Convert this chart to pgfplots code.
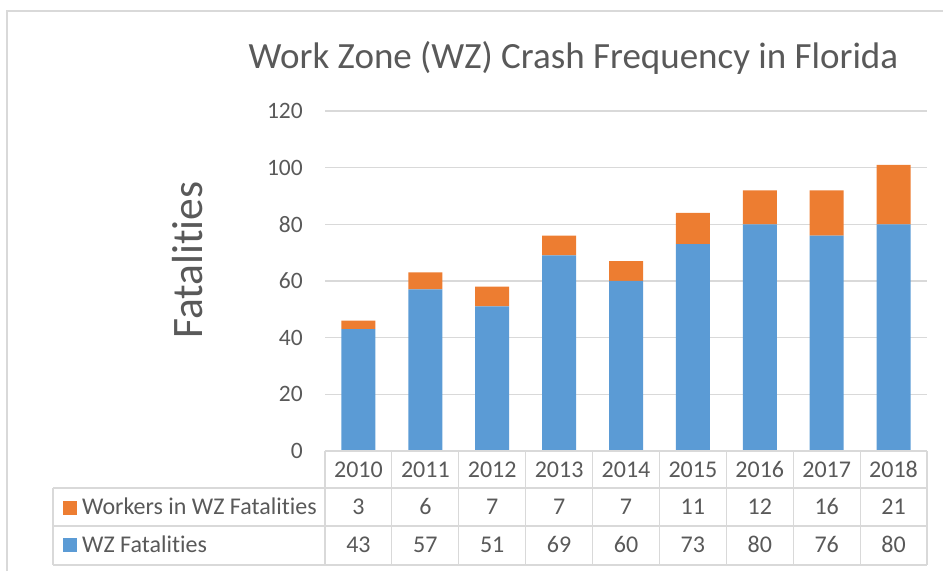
\documentclass[border=0pt]{standalone}
\usepackage{pgfplots}
\pgfplotsset{compat=1.18}
\usepackage{pgfplotstable}
\usepackage{fontspec}
\setmainfont{Carlito}[Ligatures=NoCommon]
\definecolor{wzblue}{HTML}{5B9BD5}
\definecolor{wzorange}{HTML}{ED7D31}
\definecolor{txtgray}{HTML}{595959}
\definecolor{linegray}{HTML}{D9D9D9}

\pgfplotstableread{
x year wz workers
0 2010 43 3
1 2011 57 6
2 2012 51 7
3 2013 69 7
4 2014 60 7
5 2015 73 11
6 2016 80 12
7 2017 76 16
8 2018 80 21
}\datatable

\begin{document}
\begin{tikzpicture}
\begin{scope}[x=1pt,y=1pt]
\useasboundingbox (0,0) rectangle (943,571);
\draw[linegray, line width=1.2pt] (7,0) -- (7,560) -- (943,560);
\end{scope}
\begin{axis}[at={(325pt,120pt)}, anchor=south west, scale only axis,
  width=602pt, height=340pt,
  xmin=-0.5, xmax=8.5, ymin=0, ymax=120,
  ytick={0,20,...,120}, xtick=\empty,
  ymajorgrids, grid style={linegray, line width=1.2pt},
  axis line style={draw=none}, major tick length=0pt,
  ybar stacked, bar width=34pt,
  /pgf/number format/assume math mode=true,
  yticklabel style={font=\fontsize{23.5}{28}\selectfont, text=txtgray, inner sep=0pt, xshift=-22pt},
  clip=false]
\addplot[fill=wzblue, draw=none] table[x=x, y=wz] {\datatable};
\addplot[fill=wzorange, draw=none] table[x=x, y=workers] {\datatable};
\end{axis}
\begin{scope}[x=1pt,y=1pt]
\draw[linegray, line width=1.2pt] (325,120) -- (927,120);
\draw[linegray, line width=1.2pt] (53,83) -- (927,83);
\draw[linegray, line width=1.2pt] (53,45) -- (927,45);
\draw[linegray, line width=1.2pt] (53,6) -- (927,6);
\foreach \k in {0,...,9} \draw[linegray, line width=1.2pt] ({325+66.889*\k},120) -- ({325+66.889*\k},6);
\draw[linegray, line width=1.2pt] (53,83) -- (53,6);
\fill[wzorange] (63,56) rectangle (77,70);
\fill[wzblue] (63,19) rectangle (77,33);
\node[anchor=base west, inner sep=0pt, text=txtgray, font=\fontsize{24}{28}\selectfont] at (82,57) {Workers in WZ Fatalities};
\node[anchor=base west, inner sep=0pt, text=txtgray, font=\fontsize{24}{28}\selectfont] at (82,19) {WZ Fatalities};
\foreach \i in {0,...,8} {
  \pgfplotstablegetelem{\i}{year}\of\datatable
  \node[anchor=base, inner sep=0pt, text=txtgray, font=\fontsize{24}{28}\selectfont] at ({325+66.889*(\i+0.5)},94) {\pgfplotsretval};
  \pgfplotstablegetelem{\i}{workers}\of\datatable
  \node[anchor=base, inner sep=0pt, text=txtgray, font=\fontsize{24}{28}\selectfont] at ({325+66.889*(\i+0.5)},57) {\pgfplotsretval};
  \pgfplotstablegetelem{\i}{wz}\of\datatable
  \node[anchor=base, inner sep=0pt, text=txtgray, font=\fontsize{24}{28}\selectfont] at ({325+66.889*(\i+0.5)},19) {\pgfplotsretval};
}
\node[anchor=base, inner sep=0pt, text=txtgray, font=\fontsize{37}{44}\selectfont] at (573.5,502) {Work Zone (WZ) Crash Frequency in Florida};
\node[rotate=90, anchor=base, inner sep=0pt, text=txtgray, font=\fontsize{43.5}{50}\selectfont] at (202,311) {Fatalities};
\end{scope}
\end{tikzpicture}
\end{document}
